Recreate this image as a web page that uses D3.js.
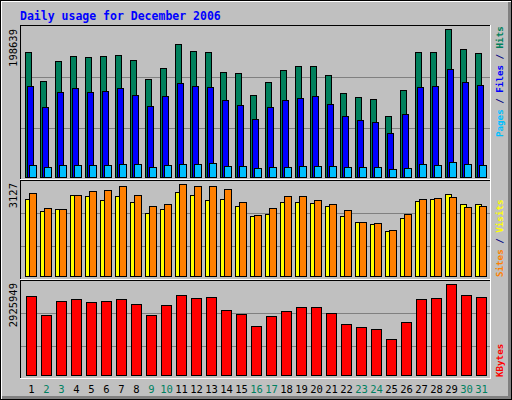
<!DOCTYPE html>
<html><head><meta charset="utf-8">
<script src="https://cdn.jsdelivr.net/npm/d3@7"></script>
<style>body{margin:0;background:#fff}svg{display:block}</style>
</head><body>
<script>
const days = d3.range(1, 32).map(String);
const weekends = ["2","3","9","10","16","17","23","24","30","31"];
const hits = [167360,128440,155280,161990,160650,161990,163330,156620,131120,145880,178100,168700,167360,140510,139170,109650,127090,143200,148570,148570,136490,112330,106960,104280,81460,116360,167360,167360,198639,171380,166010];
const files = [121720,93540,113670,119040,113670,115010,119040,109640,94880,108300,125750,121720,120380,102930,96220,77430,93540,102930,105620,108300,97560,81460,76090,73410,58650,84140,120380,121720,144530,127090,123060];
const pages = [15700,13020,15700,15700,15700,15700,17040,17040,13020,15700,17040,17040,18390,14360,14360,11680,13020,13020,14360,14360,14360,13020,13020,13020,10330,11680,17040,15700,19730,17040,15700];
const sites = [2617,2209,2277,2753,2719,2583,2719,2515,2141,2277,2855,2753,2583,2617,2379,2039,2107,2515,2515,2481,2379,2039,1835,1767,1529,1971,2549,2617,2787,2447,2447];
const visits = [2821,2311,2277,2753,2889,2923,3059,2753,2379,2447,3127,3059,3059,2957,2515,2073,2311,2719,2719,2583,2447,2243,1835,1801,1563,2107,2617,2651,2685,2345,2379];
const kbytes = [2541500,1932800,2381300,2445400,2349300,2381300,2445400,2285200,1932800,2253200,2573500,2477400,2509500,2093000,1964900,1580400,1900800,2061000,2189100,2189100,1996900,1644500,1548400,1484300,1164000,1708600,2445400,2477400,2925949,2573500,2509500];
const maxLabels = ["198639","3127","2925949"];

const W=512,H=400;
const svg=d3.select("body").append("svg").attr("width",W).attr("height",H);
const mono="'DejaVu Sans Mono', monospace";
svg.append("rect").attr("x",0).attr("y",0).attr("width",W).attr("height",H).attr("fill","#000");
svg.append("rect").attr("x",1).attr("y",1).attr("width",W-2).attr("height",H-2).attr("fill","#fff");
svg.append("rect").attr("x",2).attr("y",2).attr("width",W-3).attr("height",H-3).attr("fill","#808080");
svg.append("rect").attr("x",2).attr("y",2).attr("width",W-6).attr("height",H-6).attr("fill","#C0C0C0");

svg.append("text").attr("x",20).attr("y",20).attr("font-family",mono).attr("font-weight","bold")
  .attr("font-size","11.5px").attr("fill","#0000FF").text("Daily usage for December 2006");

const x=d3.scaleBand().domain(days).range([20,485]).paddingInner(0);
// band step 15, start 20 -> day1 at 20 ; bars offset 5
const X0=d=>x(d)+5;

function panel(y0,y1){
  svg.append("line").attr("x1",20).attr("x2",490).attr("y1",y0+0.5).attr("y2",y0+0.5).attr("stroke","#000");
  svg.append("line").attr("x1",20.5).attr("x2",20.5).attr("y1",y0).attr("y2",y1).attr("stroke","#000");
  svg.append("line").attr("x1",20).attr("x2",491).attr("y1",y1+0.5).attr("y2",y1+0.5).attr("stroke","#fff");
  svg.append("line").attr("x1",490.5).attr("x2",490.5).attr("y1",y0).attr("y2",y1+1).attr("stroke","#fff");
}
function grid(ys){ys.forEach(g=>svg.append("line").attr("x1",21).attr("x2",490).attr("y1",g+0.5).attr("y2",g+0.5).attr("stroke","#808080"));}
function bars(data,y,off,w,color){
  svg.append("g").selectAll("rect").data(data).join("rect")
   .attr("x",(d,i)=>X0(days[i])+off+0.5).attr("width",w)
   .attr("y",d=>Math.round(y(d))+0.5).attr("height",d=>y(0)-Math.round(y(d)))
   .attr("fill",color).attr("stroke","#000");
}
function ylabel(t,yTop){
  svg.append("text").attr("transform",`translate(17,${yTop}) rotate(-90)`).attr("text-anchor","end")
   .attr("font-family",mono).attr("font-size","10.5px").attr("fill","#000").text(t);
}
function rlabel(parts,yBottom){
  const t=svg.append("text").attr("transform",`translate(503,${yBottom}) rotate(-90)`)
   .attr("font-family",mono).attr("font-weight","bold").attr("font-size","9.2px");
  parts.forEach(p=>t.append("tspan").attr("fill",p[1]).text(p[0]));
}

// panel 1
panel(25,179);
const y1=d3.scaleLinear().domain([0,d3.max(hits)]).range([177,29]);
grid([128,77]);
bars(hits,y1,0,6,"#00805C");
bars(files,y1,2,6,"#0000FF");
bars(pages,y1,4,7,"#00C0FF");
ylabel(maxLabels[0],29);
rlabel([["Pages","#00C0FF"],[" / ","#000080"],["Files","#0000FF"],[" / ","#000080"],["Hits","#00805C"]],137);

// panel 2
panel(180,279);
const y2=d3.scaleLinear().domain([0,d3.max(visits)]).range([276,184]);
grid([246,213]);
bars(sites,y2,0,6,"#FFFF00");
bars(visits,y2,4,7,"#FF8000");
ylabel(maxLabels[1],183);
rlabel([["Sites","#FF8000"],[" / ","#000080"],["Visits","#FFFF00"]],277);

// panel 3
panel(280,378);
const y3=d3.scaleLinear().domain([0,d3.max(kbytes)]).range([375,284]);
grid([346,313]);
bars(kbytes,y3,1,10,"#FF0000");
ylabel(maxLabels[2],283);
rlabel([["KBytes","#FF0000"]],377);

// x labels
svg.append("g").selectAll("text").data(days).join("text")
 .attr("x",d=>X0(d)+6.5).attr("y",393).attr("text-anchor","middle")
 .attr("font-family",mono).attr("font-size","10.5px")
 .attr("fill",d=>weekends.includes(d)?"#008060":"#000").text(d=>d);
</script>
</body></html>
